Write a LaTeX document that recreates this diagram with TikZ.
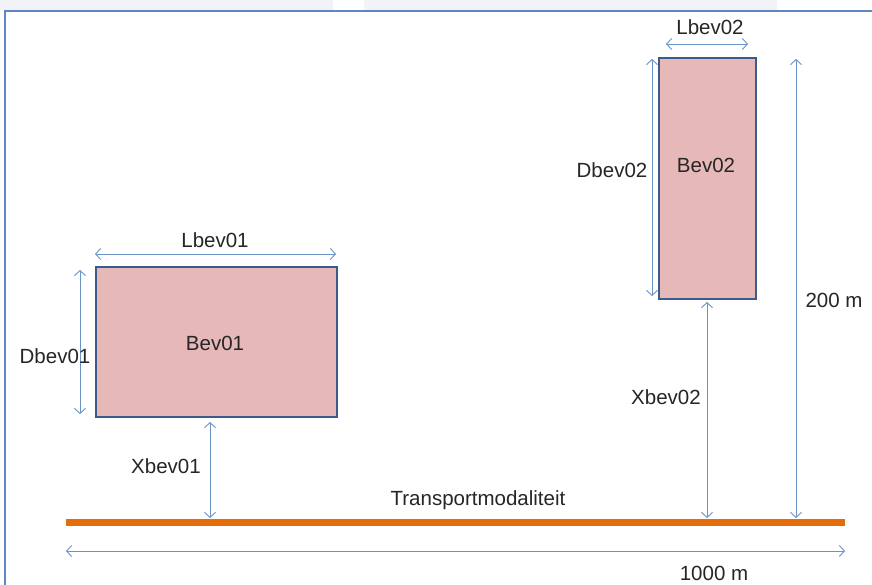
\documentclass[tikz,border=0pt]{standalone}
\usepackage{fontspec}
\setmainfont{Liberation Sans}
\usetikzlibrary{arrows.meta}
\definecolor{bevfill}{HTML}{E6B9B8}
\definecolor{bevline}{HTML}{3B5C8A}
\definecolor{dimline}{HTML}{6A93C8}
\definecolor{frameline}{HTML}{5B87C2}
\definecolor{roadcol}{HTML}{E46C0A}
\definecolor{stripcol}{HTML}{F2F3F7}
\tikzset{
  bev/.style={draw=bevline, line width=2.4pt, fill=bevfill, inner sep=0pt, anchor=north west},
  dim/.style={draw=dimline, line width=0.9pt, {Straight Barb[length=5pt,width=11pt]}-{Straight Barb[length=5pt,width=11pt]}},
  lbl/.style={font=\fontsize{20.5}{24}\selectfont, inner sep=0pt, text=black!85},
  road/.style={draw=roadcol, line width=7pt}
}
\begin{document}
\begin{tikzpicture}[x=1pt,y=-1pt]
\useasboundingbox (0,0) rectangle (872,585);
\fill[white] (0,0) rectangle (872,585);
\fill[stripcol] (0,0) rectangle (333,10);
\fill[stripcol] (364,0) rectangle (777,10);
\draw[frameline, line width=1.8pt] (5,585) -- (5,11) -- (872,11);

% buildings
\node[bev, minimum width=241pt, minimum height=150pt] (b1) at (95,266) {};
\node[lbl] at (215,343) {Bev01};
\node[bev, minimum width=97pt, minimum height=241pt] (b2) at (658,57) {};
\node[lbl] at (706,165) {Bev02};

% road
\coordinate (rl) at (66,522);
\coordinate (rr) at (845,522);
\draw[road] (rl) -- (rr);
\node[lbl] (tm) at (478,500) {Transportmodaliteit};

% dimension coordinates
\coordinate (l1a) at (95,254);  \coordinate (l1b) at (336,254);
\coordinate (d1a) at (80,270);  \coordinate (d1b) at (80,414);
\coordinate (x1a) at (210,422); \coordinate (x1b) at (210,518);
\coordinate (l2a) at (666,44);  \coordinate (l2b) at (748,44);
\coordinate (d2a) at (652,59);  \coordinate (d2b) at (652,296);
\coordinate (x2a) at (707,302); \coordinate (x2b) at (707,518);
\coordinate (h2a) at (796,59);  \coordinate (h2b) at (796,518);
\coordinate (wa) at (66,551);   \coordinate (wb) at (845,551);

\draw[dim] (l1a) -- (l1b);
\draw[dim] (d1a) -- (d1b);
\draw[dim] (x1a) -- (x1b);
\draw[dim] (l2a) -- (l2b);
\draw[dim] (d2a) -- (d2b);
\draw[dim] (x2a) -- (x2b);
\draw[dim] (h2a) -- (h2b);
\draw[dim] (wa) -- (wb);

\node[lbl] at (215,240) {Lbev01};
\node[lbl] at (55,356) {Dbev01};
\node[lbl] at (166,466) {Xbev01};
\node[lbl] at (710,27) {Lbev02};
\node[lbl] at (612,170) {Dbev02};
\node[lbl] at (666,397) {Xbev02};
\node[lbl] at (834,300) {200 m};
\node[lbl] at (714,573) {1000 m};
\end{tikzpicture}
\end{document}
